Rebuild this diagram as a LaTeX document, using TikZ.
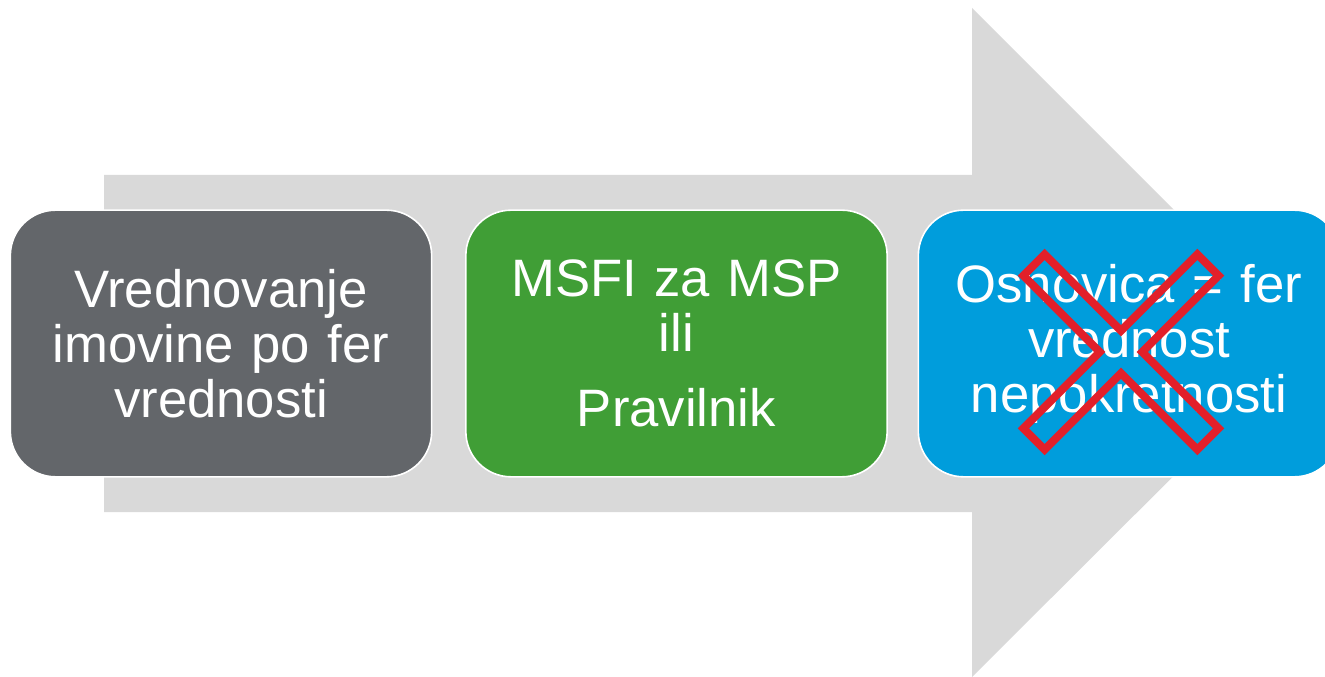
\documentclass[tikz,border=0pt]{standalone}
\usepackage{fontspec}
\setmainfont{Liberation Sans}
\usepackage{xcolor}
\usepackage{tikz}
\usetikzlibrary{positioning}
\definecolor{arrowgray}{HTML}{D9D9D9}
\definecolor{boxgray}{HTML}{63666A}
\definecolor{boxgreen}{HTML}{409E36}
\definecolor{boxblue}{HTML}{009DDC}
\definecolor{crossred}{HTML}{E2202A}
\tikzset{
  bigarrow/.style={fill=arrowgray, draw=none},
  stepbox/.style={rectangle, rounded corners=34pt, draw=white, line width=1.2pt,
    minimum width=316pt, minimum height=200pt, text width=300pt, align=center,
    text=white, font=\fontsize{39.5}{41.25}\selectfont},
  crossmark/.style={draw=crossred, line width=6pt, line join=miter},
}

\begin{document}
\begin{tikzpicture}[x=0.75pt, y=-0.75pt]
\useasboundingbox (0,0) rectangle (1325,677);
\clip (0,0) rectangle (1325,677);
% background arrow
\path[bigarrow] (104,175) -- (972,175) -- (972,8) -- (1307,343) -- (972,677)
  -- (972,512) -- (104,512) -- cycle;
\node[stepbox, fill=boxgray] (fair) at (221,343.5) {Vrednovanje\\ imovine po fer\\ vrednosti};
\node[stepbox, fill=boxgreen] (rules) at (676.5,343.5) {MSFI za MSP\\ ili\\[15pt] Pravilnik};
\node[stepbox, fill=boxblue] (base) at (1129,343.5) {Osnovica = fer\\ vrednost\\ nepokretnosti};
% crossed out
\begin{scope}[shift={(1121,352)}, rotate=45]
\draw[crossmark] (-15,-123) -- (15,-123) -- (15,-15) -- (123,-15) -- (123,15) -- (15,15)
  -- (15,123) -- (-15,123) -- (-15,15) -- (-123,15) -- (-123,-15) -- (-15,-15) -- cycle;
\end{scope}
\end{tikzpicture}
\end{document}
